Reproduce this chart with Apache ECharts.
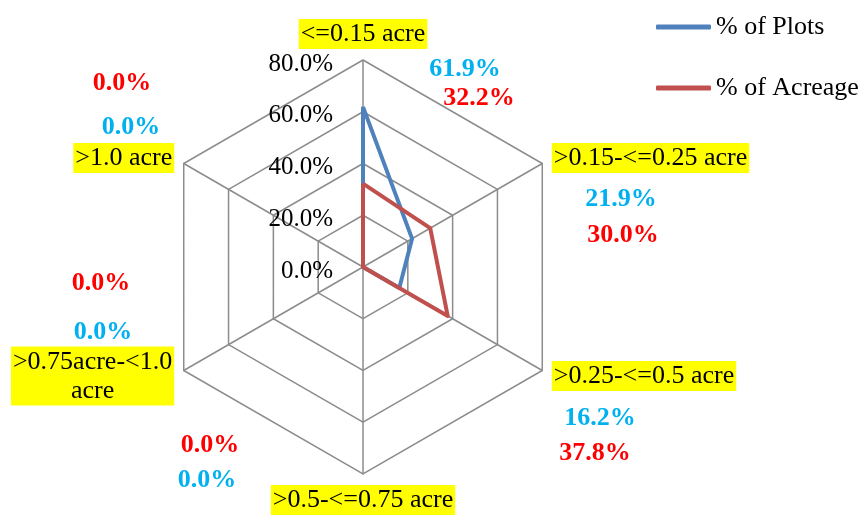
<!DOCTYPE html>
<html>
<head>
<meta charset="utf-8">
<script src="https://cdn.jsdelivr.net/npm/echarts@6/dist/echarts.min.js"></script>
<style>
  html, body { margin: 0; padding: 0; background: #fff; }
  #chart { width: 862px; height: 516px; }
</style>
</head>
<body>
<div id="chart"></div>
<script>
// Plot-size classes, listed clockwise from the top of the hexagon
const categories = [
  '<=0.15 acre',
  '>0.15-<=0.25 acre',
  '>0.25-<=0.5 acre',
  '>0.5-<=0.75 acre',
  '>0.75acre-<1.0\nacre',
  '>1.0 acre'
];
const plotsPct = [61.9, 21.9, 16.2, 0.0, 0.0, 0.0];
const acreagePct = [32.2, 30.0, 37.8, 0.0, 0.0, 0.0];
const seriesNames = ['% of Plots', '% of Acreage'];
const axisMax = 80;
const axisTicks = ['0.0%', '20.0%', '40.0%', '60.0%', '80.0%'];

const FONT = '"Liberation Serif", "Times New Roman", serif';
const LINE_BLUE = '#4f81bd';
const LINE_RED = '#c0504d';
const TEXT_BLUE = '#00b0f0';
const TEXT_RED = '#ff0000';
const GRID = '#8c8c8c';

// ECharts lays radar indicators out counter-clockwise; reorder so the
// classes run clockwise from the top.
const order = [0, 5, 4, 3, 2, 1];
const pick = arr => order.map(i => arr[i]);

const indicators = pick(categories).map((name, k) => {
  const ind = { name: name, max: axisMax, min: 0 };
  if (k === 0) {
    ind.axisLabel = {
      show: true,
      formatter: v => axisTicks[Math.round(v / (axisMax / (axisTicks.length - 1)))]
    };
  }
  return ind;
});

// Value call-outs placed around the hexagon (centre of each text)
const plotsLabelPos = [[465, 69], [621, 199], [600, 418], [207, 480], [103, 332], [131, 127]];
const acreageLabelPos = [[479, 98], [623, 235], [595, 453], [210, 445], [101, 283], [122, 83]];

function valueTexts(values, positions, color) {
  return values.map((v, i) => ({
    type: 'text',
    x: positions[i][0],
    y: positions[i][1],
    style: {
      text: v.toFixed(1) + '%',
      fill: color,
      font: 'bold 26px ' + FONT,
      align: 'center',
      verticalAlign: 'middle'
    }
  }));
}

const chart = echarts.init(document.getElementById('chart'), null, { renderer: 'canvas' });

chart.setOption({
  animation: false,
  backgroundColor: '#ffffff',
  textStyle: { fontFamily: FONT },
  legend: {
    orient: 'vertical',
    left: 651,
    top: 9,
    itemWidth: 55,
    itemHeight: 5,
    itemGap: 35,
    icon: 'roundRect',
    textStyle: { fontFamily: FONT, fontSize: 26, color: '#000' },
    data: seriesNames
  },
  radar: {
    center: [363, 267],
    radius: 207,
    startAngle: 90,
    shape: 'polygon',
    splitNumber: 4,
    nameGap: 11,
    indicator: indicators,
    axisName: {
      color: '#000',
      fontFamily: FONT,
      fontSize: 26,
      lineHeight: 29,
      backgroundColor: '#ffff00',
      padding: [1, 2, 0, 2],
      formatter: function (name) {
        return name.split('\n').map(s => '{c|' + s + '}').join('\n');
      },
      rich: { c: { align: 'center', fontFamily: FONT, fontSize: 26, lineHeight: 29, color: '#000' } }
    },
    axisLine: { lineStyle: { color: GRID, width: 1.5 } },
    splitLine: { lineStyle: { color: GRID, width: 1.5 } },
    splitArea: { show: false },
    axisTick: { show: false },
    axisLabel: {
      show: false,
      color: '#000',
      fontFamily: FONT,
      fontSize: 25,
      margin: 30,
      verticalAlign: 'top',
      lineHeight: 8
    }
  },
  series: [{
    type: 'radar',
    symbol: 'none',
    data: [
      { name: seriesNames[0], value: pick(plotsPct), lineStyle: { color: LINE_BLUE, width: 4 }, itemStyle: { color: LINE_BLUE } },
      { name: seriesNames[1], value: pick(acreagePct), lineStyle: { color: LINE_RED, width: 4 }, itemStyle: { color: LINE_RED } }
    ]
  }],
  graphic: valueTexts(acreagePct, acreageLabelPos, TEXT_RED)
    .concat(valueTexts(plotsPct, plotsLabelPos, TEXT_BLUE))
});
</script>
</body>
</html>
